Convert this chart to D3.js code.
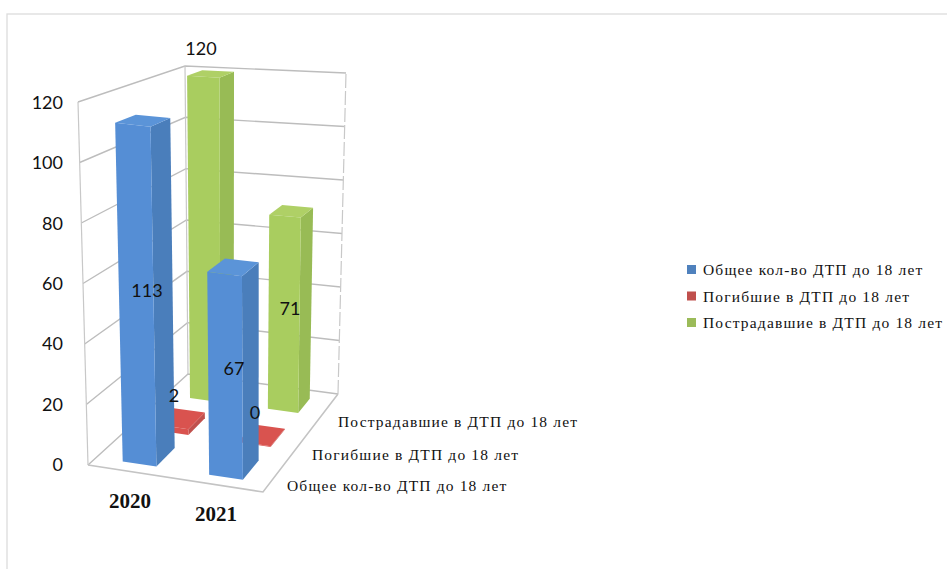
<!DOCTYPE html>
<html><head><meta charset="utf-8">
<script src="https://cdn.jsdelivr.net/npm/d3@7/dist/d3.min.js"></script>
<style>html,body{margin:0;background:#fff}svg{display:block}</style></head>
<body><svg id="c" width="947" height="569"></svg>
<script>
const years = ["2020","2021"];
const seriesNames = ["Общее кол-во ДТП до 18 лет","Погибшие в ДТП до 18 лет","Пострадавшие в ДТП до 18 лет"];
const totalValues = [113,67];
const deadValues = [2,0];
const injuredValues = [120,71];
const valueTicks = [0,20,40,60,80,100,120];
const frontColors = ["#558ed5","#d9534f","#a9cd5f"];
const sideColors = ["#4a7ebb","#c0504d","#98bb55"];
const topColors = ["#5b94d8","#d9534f","#afd066"];
const legendColors = ["#4f81bd","#c0504d","#9bbb59"];

const svg = d3.select("#c");
const uScale = d3.scaleBand().domain(years).range([0,1]);
const wScale = d3.scaleBand().domain(seriesNames).range([0,1]);
const vScale = d3.scaleLinear().domain([0,120]).range([0,1]);

const C = {
  f0:[88,465], r0:[263,492], b0:[188,374], br0:[338,394],
  f1:[78,102], r1:[262,122], b1:[185,66],  br1:[346,73]
};
const mix=(a,b,t)=>[a[0]+(b[0]-a[0])*t,a[1]+(b[1]-a[1])*t];
function P(u,w,t){
  const lo=mix(mix(C.f0,C.r0,u),mix(C.b0,C.br0,u),w);
  const hi=mix(mix(C.f1,C.r1,u),mix(C.b1,C.br1,u),w);
  return mix(lo,hi,t);
}
const line=d3.line();
const grid=svg.append("g").attr("fill","none");
svg.insert("rect",":first-child").attr("x",7).attr("y",14).attr("width",960).attr("height",600)
  .attr("fill","#fff").attr("stroke","#dcdcdc").attr("stroke-width",1.3);

valueTicks.forEach(v=>{
  const t=vScale(v);
  grid.append("path").attr("d",line([P(0,0,t),P(0,1,t),P(1,1,t)])).attr("stroke","#bdbdbd").attr("stroke-width",1.4);
});
grid.append("path").attr("d",line([P(0,0,0),P(0,0,1)])).attr("stroke","#c8c8c8").attr("stroke-width",1.2);
grid.append("path").attr("d",line([P(0,1,0),P(0,1,1)])).attr("stroke","#c8c8c8").attr("stroke-width",1.2);
grid.append("path").attr("d",line([P(1,1,0),P(1,1,1)])).attr("stroke","#c8c8c8").attr("stroke-width",1.2).attr("stroke-dasharray","14 3");
grid.append("path").attr("d",line([P(0,0,0),P(1,0,0),P(1,1,0)])).attr("stroke","#c4c4c4").attr("stroke-width",1.6);

const barFracU=0.39, depthFrac=[0.6,0.54,0.44], frontOffset=[0.25,0.27,0.32], uSkew=[0,0.006,0.006];
function bar(yi,si,val){
  const bu=uScale.bandwidth(), bw=wScale.bandwidth();
  const u0=uScale(years[yi])+bu*(1-barFracU)/2+uSkew[si], u1=u0+bu*barFracU;
  const w0=wScale(seriesNames[si])+bw*frontOffset[si], w1=w0+bw*depthFrac[si];
  const t=Math.max(vScale(val),0.002);
  const g=svg.append("g");
  g.append("path").attr("d",line([P(u1,w0,0),P(u1,w1,0),P(u1,w1,t),P(u1,w0,t)])+"Z").attr("fill",sideColors[si]);
  g.append("path").attr("d",line([P(u0,w0,t),P(u1,w0,t),P(u1,w1,t),P(u0,w1,t)])+"Z").attr("fill",topColors[si]);
  g.append("path").attr("d",line([P(u0,w0,0),P(u1,w0,0),P(u1,w0,t),P(u0,w0,t)])+"Z").attr("fill",frontColors[si]);
}
const allVals=[totalValues,deadValues,injuredValues];
[2,1,0].forEach(si=>years.forEach((y,yi)=>bar(yi,si,allVals[si][yi])));

const sans="Lato, Carlito, sans-serif", serif="'Liberation Serif', serif";
const txt=(x,y,s,o={})=>svg.append("text").attr("x",x).attr("y",y).text(s)
  .attr("font-family",o.f||sans).attr("font-size",o.size||18).attr("font-weight",o.w||400)
  .attr("text-anchor",o.a||"middle").attr("fill","#111").attr("letter-spacing",o.ls||0);

const axisY=d3.scaleLinear().domain([0,120]).range([471,109]);
valueTicks.forEach(v=>txt(63,axisY(v),String(v),{a:"end"}));

const labelPos=[[[147,297],[234,375]],[[174,402],[255,419]],[[201,55],[290,315]]];
allVals.forEach((arr,si)=>arr.forEach((v,yi)=>txt(labelPos[si][yi][0],labelPos[si][yi][1],String(v))));

txt(130,508,years[0],{f:serif,w:700,size:21});
txt(216,521,years[1],{f:serif,w:700,size:21});
const depthPos=[[287,491],[312,460],[338,427]];
seriesNames.forEach((s,i)=>txt(depthPos[i][0],depthPos[i][1],s,{f:serif,size:15.5,a:"start",ls:1.17}));

const legY=d3.scalePoint().domain(seriesNames).range([270,323]);
seriesNames.forEach((s,i)=>{
  svg.append("rect").attr("x",687).attr("y",legY(s)-5).attr("width",9).attr("height",9).attr("fill",legendColors[i]);
  txt(703,legY(s)+5,s,{f:serif,size:15.5,a:"start",ls:1.17});
});
</script></body></html>
